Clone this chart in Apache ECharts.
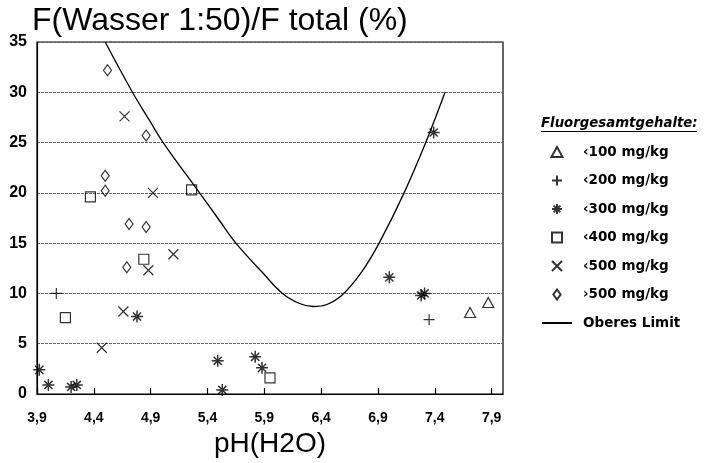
<!DOCTYPE html>
<html>
<head>
<meta charset="utf-8">
<script src="https://cdn.jsdelivr.net/npm/echarts@6/dist/echarts.min.js"></script>
<style>
  html, body { margin: 0; padding: 0; background: #fff; }
  #chart { width: 705px; height: 463px; }
</style>
</head>
<body>
<div id="chart"></div>
<script>
// pH(H2O) vs. water-soluble fluoride share, grouped by total fluoride content
const lt100 = [[7.71, 8.1], [7.87, 9.1]];
const lt200 = [[4.07, 10.0], [7.35, 7.4]];
const lt300 = [[3.92, 2.4], [4.0, 0.9], [4.2, 0.7], [4.25, 0.9], [4.78, 7.7], [5.49, 3.3],
               [5.53, 0.4], [5.82, 3.7], [5.88, 2.6], [7.0, 11.6], [7.28, 9.8], [7.31, 10.0], [7.39, 26.0]];
const lt400 = [[4.15, 7.6], [4.37, 19.6], [4.84, 13.4], [5.26, 20.3], [5.95, 1.6]];
const lt500 = [[4.47, 4.6], [4.66, 8.2], [4.67, 27.6], [4.88, 12.3], [4.92, 20.0], [5.1, 13.9]];
const gt500 = [[4.5, 21.7], [4.5, 20.2], [4.52, 32.2], [4.69, 12.6], [4.71, 16.9], [4.86, 16.6], [4.86, 25.7]];
// upper limit curve
const upperLimit = [[4.5, 35], [4.74, 30], [4.89, 27.2], [5.01, 25], [5.33, 20], [5.49, 17.5], [5.65, 15],
                    [5.89, 12], [6.06, 10], [6.21, 9.0], [6.33, 8.7], [6.45, 8.9], [6.59, 9.9], [6.76, 12.2],
                    [6.91, 15], [7.13, 20], [7.32, 25], [7.49, 30]];

const seriesNames = ['\u2039100 mg/kg', '\u2039200 mg/kg', '\u2039300 mg/kg', '\u2039400 mg/kg',
                     '\u2039500 mg/kg', '\u203A500 mg/kg', 'Oberes Limit'];

const sym = {
  tri: 'path://M5,0L10,9L0,9Z',
  plus: 'path://M5,0L5,10M0,5L10,5',
  star: 'path://M5,0L5,10M0,5L10,5M1.6,1.6L8.4,8.4M8.4,1.6L1.6,8.4',
  square: 'path://M0,0L10,0L10,10L0,10Z',
  cross: 'path://M0,0L10,10M10,0L0,10',
  diamond: 'path://M4,0L8,5.5L4,11L0,5.5Z'
};

function scatter(name, data, symbol, size, width) {
  return {
    name: name,
    type: 'scatter',
    data: data,
    symbol: symbol,
    symbolSize: size,
    itemStyle: { color: 'rgba(0,0,0,0)', borderColor: '#000', borderWidth: width || 1.2 },
    emphasis: { disabled: true },
    z: 3
  };
}

const chart = echarts.init(document.getElementById('chart'), null, { renderer: 'canvas' });
chart.setOption({
  animation: false,
  backgroundColor: '#fff',
  title: {
    text: 'F(Wasser 1:50)/F total (%)',
    left: 32, top: 5, padding: 0,
    textStyle: { fontFamily: 'Liberation Sans', fontSize: 32, fontWeight: 'normal', color: '#000' }
  },
  grid: {
    left: 37, right: 202, top: 42, bottom: 68,
    show: true, borderColor: '#000', borderWidth: 1.2, backgroundColor: 'transparent'
  },
  xAxis: {
    type: 'value', min: 3.9, max: 8.0, interval: 0.5,
    name: 'pH(H2O)', nameLocation: 'middle', nameGap: 36,
    nameTextStyle: { fontFamily: 'Liberation Sans', fontSize: 28, color: '#000' },
    axisLine: { show: true, lineStyle: { color: '#000', width: 1.2 } },
    axisTick: { show: true, inside: true, length: 6, lineStyle: { color: '#000', width: 1.2 } },
    splitLine: { show: false },
    axisLabel: {
      showMaxLabel: false, margin: 17, color: '#000',
      fontFamily: 'Liberation Sans', fontWeight: 'bold', fontSize: 14,
      formatter: v => v.toFixed(1).replace('.', ',')
    }
  },
  yAxis: {
    type: 'value', min: 0, max: 35, interval: 5,
    axisLine: { show: true, lineStyle: { color: '#000', width: 1.2 } },
    axisTick: { show: false },
    splitLine: { show: true, lineStyle: { color: '#666', width: 1, type: [3, 1] } },
    axisLabel: { margin: 10, color: '#000', fontFamily: 'Liberation Sans', fontWeight: 'bold', fontSize: 16 }
  },
  legend: {
    orient: 'vertical', left: 536, top: 140,
    itemWidth: 30, itemHeight: 10, itemGap: 14.5,
    data: seriesNames.slice(0, 6).concat([{ name: seriesNames[6], itemStyle: { opacity: 0 } }]),
    selectedMode: false,
    textStyle: { fontFamily: 'DejaVu Sans', fontWeight: 'bold', fontSize: 13.5, color: '#000',
                 padding: [0, 0, 0, 6] }
  },
  graphic: [
    {
      type: 'text', left: 541, top: 117,
      style: { text: 'Fluorgesamtgehalte:', fontFamily: 'DejaVu Sans', fontStyle: 'italic',
               fontWeight: 'bold', fontSize: 13.3, fill: '#000' }
    },
    {
      type: 'line', shape: { x1: 541, y1: 131.5, x2: 697, y2: 131.5 },
      style: { stroke: '#000', lineWidth: 1.2 }
    }
  ],
  series: [
    scatter(seriesNames[0], lt100, sym.tri, [11, 10]),
    scatter(seriesNames[1], lt200, sym.plus, 11),
    scatter(seriesNames[2], lt300, sym.star, 12, 1.5),
    scatter(seriesNames[3], lt400, sym.square, 10),
    scatter(seriesNames[4], lt500, sym.cross, 10),
    scatter(seriesNames[5], gt500, sym.diamond, [8, 11]),
    {
      name: seriesNames[6], type: 'line', data: upperLimit, smooth: 0.4,
      symbol: 'none', clip: true,
      lineStyle: { color: '#000', width: 1.3 },
      itemStyle: { color: '#000' },
      emphasis: { disabled: true },
      z: 2
    }
  ]
});
</script>
</body>
</html>
